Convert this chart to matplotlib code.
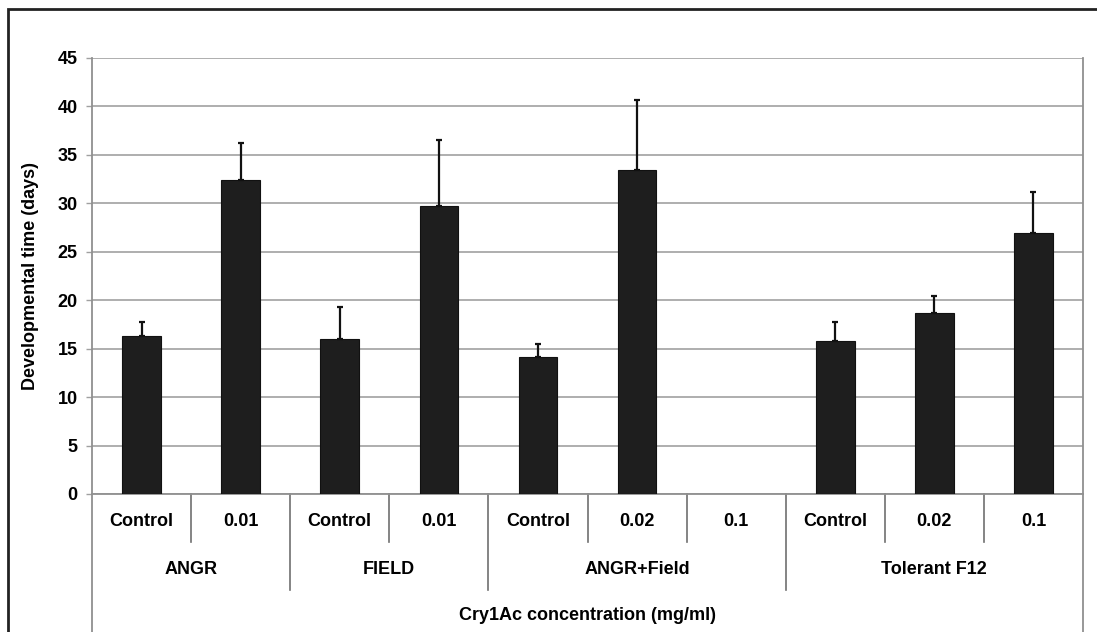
import matplotlib.pyplot as plt
from matplotlib.patches import Rectangle
import numpy as np

plt.rcParams['font.family'] = ['Liberation Sans', 'DejaVu Sans']

# development time per treatment, days (mean and upper error)
groups = ['ANGR', 'FIELD', 'ANGR+Field', 'Tolerant F12']
group_sizes = [2, 2, 3, 3]
conc_labels = ['Control', '0.01', 'Control', '0.01', 'Control', '0.02', '0.1',
               'Control', '0.02', '0.1']
dev_time = [16.3, 32.4, 16.0, 29.7, 14.1, 33.4, np.nan, 15.8, 18.7, 26.9]
dev_err = [1.5, 3.8, 3.3, 6.8, 1.4, 7.3, np.nan, 2.0, 1.7, 4.3]
xlabel = 'Cry1Ac concentration (mg/ml)'
ylabel = 'Developmental time (days)'

W, H = 1097, 632
fs = 13
fig = plt.figure(figsize=(W / 100, H / 100), dpi=100)
ax = fig.add_axes([92 / W, (H - 494) / H, (1083 - 92) / W, (494 - 58) / H])

x = np.arange(len(dev_time))
ax.bar(x, dev_time, width=0.39, color='#1e1e1e', edgecolor='#111111', linewidth=0.8, zorder=3)
ax.errorbar(x, dev_time, yerr=[np.zeros(len(x)), dev_err], fmt='none',
            ecolor='#111111', elinewidth=1.6, capsize=2.5, capthick=1.6, zorder=4)

ax.set_xlim(-0.5, len(x) - 0.5)
ax.set_ylim(0, 45)
ax.set_yticks(range(0, 46, 5))
ax.yaxis.grid(True, color='#a8a8a8', linewidth=1.3, zorder=0)
ax.set_axisbelow(True)
ax.tick_params(axis='y', length=4.3, width=1, color='#a0a0a0', labelsize=fs, pad=6)
for lab in ax.get_yticklabels():
    lab.set_fontweight('bold')
ax.set_xticks([])
ax.spines['top'].set_visible(False)
ax.spines['left'].set_color('#909090')
ax.spines['right'].set_color('#909090')
ax.spines['bottom'].set_color('#909090')
for s in ax.spines.values():
    s.set_linewidth(1.3)

ax.set_ylabel(ylabel, fontsize=fs, fontweight='bold')
ax.yaxis.set_label_coords(-0.053, 0.5)

trans = ax.get_xaxis_transform()
px = 1 / 436.0
tier1 = -48 * px
tier2 = -96 * px
bottom = -140 * px

# concentration labels and separators
for i, lab in enumerate(conc_labels):
    ax.text(i, -27 * px, lab, transform=trans, ha='center', va='center',
            fontsize=fs, fontweight='bold')

bounds = np.cumsum(group_sizes) - 0.5
starts = np.concatenate([[-0.5], bounds[:-1]])
for b in np.arange(0.5, len(x) - 1, 1.0):
    if b in bounds:
        continue
    ax.plot([b, b], [0, tier1], transform=trans, color='#707070', lw=1.2, clip_on=False)
for b in bounds[:-1]:
    ax.plot([b, b], [0, tier2], transform=trans, color='#707070', lw=1.2, clip_on=False)
for b in [-0.5, len(x) - 0.5]:
    ax.plot([b, b], [0, bottom], transform=trans, color='#909090', lw=1.3, clip_on=False)

# group labels
for g, s0, b in zip(groups, starts, bounds):
    ax.text((s0 + b) / 2, -76 * px, g, transform=trans, ha='center', va='center',
            fontsize=fs, fontweight='bold')

ax.text((len(x) - 1) / 2, -122 * px, xlabel, transform=trans, ha='center', va='center',
        fontsize=fs, fontweight='bold')

# outer frame
fig.patches.append(Rectangle((8 / W, -0.05), 1.2, 1 - 9 / H + 0.05, transform=fig.transFigure,
                             fill=False, edgecolor='#222222', linewidth=2))

fig.savefig('out.png', dpi=100)
